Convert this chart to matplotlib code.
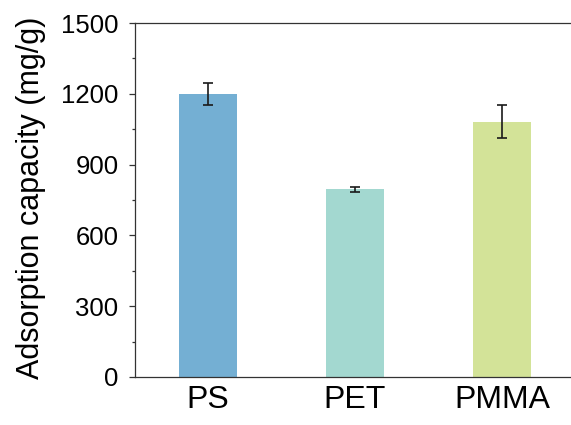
import numpy as np
import matplotlib.pyplot as plt
from matplotlib.ticker import MultipleLocator

plt.rcParams['font.family'] = ['Liberation Sans', 'DejaVu Sans']

# Adsorption capacity of each polymer
polymers = ["PS", "PET", "PMMA"]
capacity = [1200, 795, 1082]
capacity_err = [47, 11, 69]
bar_colors = ["#74afd3", "#a3d8d0", "#d3e398"]

fig = plt.figure(figsize=(5.71, 4.25), dpi=100)
ax = fig.add_axes([134.5 / 571, 48 / 425, 441 / 571, 354 / 425])

x = np.arange(len(polymers))
ax.bar(x, capacity, width=0.4, color=bar_colors, edgecolor="none")
ax.errorbar(x, capacity, yerr=capacity_err, fmt="none", ecolor="#1a1a1a",
            elinewidth=1.2, capsize=3.3, capthick=1.2)

ax.set_xlim(-0.5, 2.5)
ax.set_ylim(0, 1500)
ax.set_xticks(x)
ax.set_xticklabels(polymers, fontsize=23)
ax.yaxis.set_major_locator(MultipleLocator(300))
ax.yaxis.set_minor_locator(MultipleLocator(150))
ax.tick_params(axis="y", which="major", labelsize=18.5, length=4.5, width=0.9,
               direction="out", pad=7, colors="#333333", labelcolor="black")
ax.tick_params(axis="y", which="minor", length=2.5, width=0.9, colors="#333333")
ax.tick_params(axis="x", length=0, pad=6)

for side in ["left", "bottom", "top"]:
    ax.spines[side].set_linewidth(0.9)
    ax.spines[side].set_color("#333333")
ax.spines["right"].set_visible(False)

ax.set_ylabel("Adsorption capacity (mg/g)", fontsize=22)
ax.yaxis.set_label_coords(-0.2, 0.505)

fig.savefig("out.png", dpi=100)
